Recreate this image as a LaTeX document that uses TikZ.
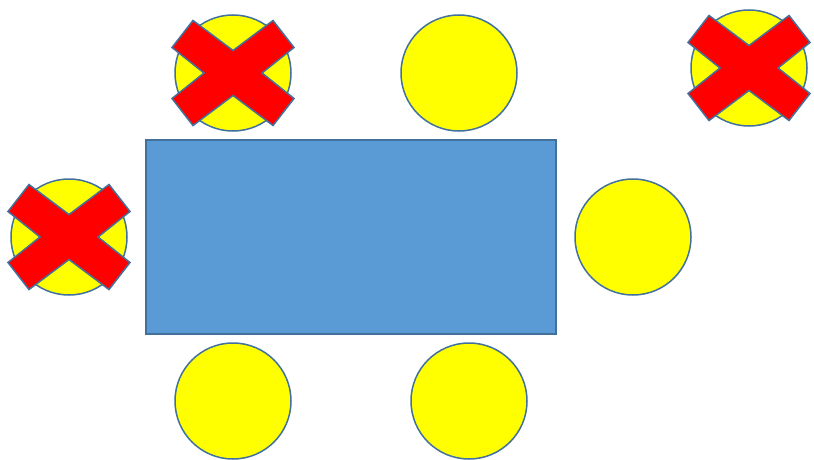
\documentclass[tikz,border=0pt]{standalone}
\definecolor{seatyellow}{HTML}{FFFF00}
\definecolor{edgeblue}{HTML}{41719C}
\definecolor{tableblue}{HTML}{5B9BD5}
\definecolor{crossred}{HTML}{FF0000}
\tikzset{
  seat/.style={circle, draw=edgeblue, fill=seatyellow, line width=1.5pt, minimum size=116pt, inner sep=0pt},
  tablebox/.style={rectangle, draw=edgeblue, fill=tableblue, line width=1.5pt, minimum width=410pt, minimum height=194pt, inner sep=0pt},
  xmark/.style={draw=edgeblue, fill=crossred, line width=1.5pt, line join=miter}
}
\newcommand\seatcross[1]{%
  \draw[xmark, shift={(#1.center)}] (-40,-52.5) -- (0,-22.5) -- (40,-52.5) -- (61,-25.5) -- (29,0) -- (61,25.5) -- (40,52.5) -- (0,22.5) -- (-40,52.5) -- (-61,25.5) -- (-29,0) -- (-61,-25.5) -- cycle;}
\begin{document}
\begin{tikzpicture}[x=1pt,y=-1pt]
\useasboundingbox (0,0) rectangle (814,460);
\node[tablebox] (table) at (351,237) {};
\node[seat] (s1) at (233,73) {};
\node[seat] (s2) at (459,73) {};
\node[seat] (s3) at (749,68) {};
\node[seat] (s4) at (69,237) {};
\node[seat] (s5) at (633,237) {};
\node[seat] (s6) at (233,401) {};
\node[seat] (s7) at (469,401) {};
\seatcross{s1}
\seatcross{s3}
\seatcross{s4}
\end{tikzpicture}
\end{document}
